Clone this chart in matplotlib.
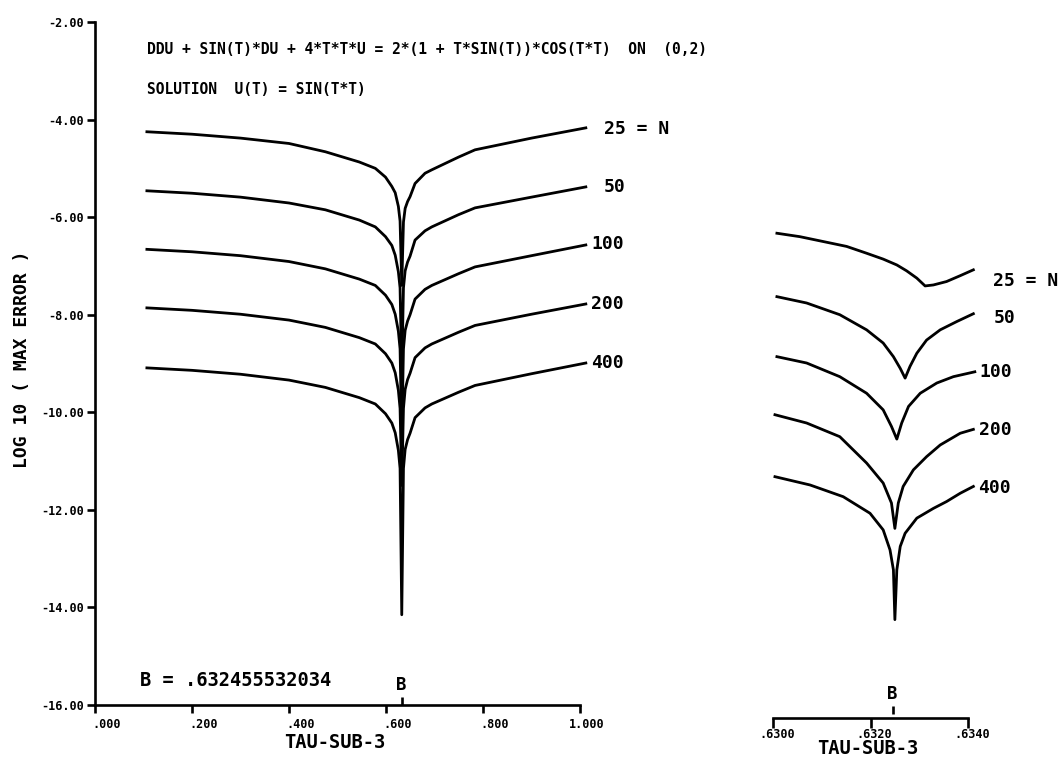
import matplotlib
matplotlib.use("Agg")
import matplotlib.pyplot as plt
import matplotlib.transforms as mtransforms

plt.rcParams['font.family'] = ['DejaVu Sans Mono']
plt.rcParams['font.weight'] = 'bold'

# ---------------- data ----------------
B = 0.632455532034
N_labels = ["25 = N", "50", "100", "200", "400"]

t_left = [0.107, 0.20, 0.30, 0.40, 0.475, 0.545, 0.578, 0.599, 0.612, 0.619, 0.6255, 0.629,
          0.6325, 0.636, 0.6395, 0.6445, 0.6496, 0.6599, 0.6805, 0.6944, 0.7494, 0.7836,
          0.90, 1.012]
left_n25 = [-4.25, -4.30, -4.38, -4.49, -4.66, -4.87, -5.00, -5.18, -5.37, -5.50, -5.78, -6.08,
            -7.40, -6.10, -5.82, -5.68, -5.58, -5.31, -5.10, -5.03, -4.77, -4.62, -4.38, -4.17]
left_n50 = [-5.46, -5.51, -5.59, -5.71, -5.85, -6.06, -6.20, -6.40, -6.58, -6.78, -7.12, -7.45,
            -9.20, -7.45, -7.10, -6.92, -6.80, -6.47, -6.28, -6.20, -5.95, -5.81, -5.59, -5.38]
left_n100 = [-6.66, -6.71, -6.79, -6.91, -7.06, -7.27, -7.40, -7.60, -7.79, -7.99, -8.34, -8.70,
             -10.50, -8.70, -8.32, -8.13, -8.00, -7.68, -7.48, -7.40, -7.16, -7.02, -6.79, -6.57]
left_n200 = [-7.86, -7.91, -7.99, -8.11, -8.26, -8.47, -8.60, -8.80, -8.99, -9.19, -9.55, -9.92,
             -11.50, -9.92, -9.53, -9.33, -9.20, -8.88, -8.68, -8.60, -8.36, -8.22, -7.99, -7.78]
left_n400 = [-9.09, -9.14, -9.22, -9.34, -9.49, -9.70, -9.83, -10.03, -10.22, -10.42, -10.78, -11.15,
             -14.15, -11.15, -10.76, -10.56, -10.43, -10.11, -9.91, -9.83, -9.59, -9.45, -9.21, -8.99]

r25_t = [0.63008, 0.63055, 0.63103, 0.63151, 0.63192, 0.63226, 0.63254, 0.63274, 0.63295,
         0.63312, 0.63329, 0.63356, 0.63384, 0.63411]
r25_v = [-6.33, -6.40, -6.50, -6.60, -6.74, -6.86, -6.98, -7.10, -7.25,
         -7.41, -7.39, -7.32, -7.20, -7.08]
r50_t = [0.63008, 0.63069, 0.63137, 0.63192, 0.63226, 0.63247, 0.63261, 0.63271, 0.63281,
         0.63295, 0.63315, 0.63343, 0.63377, 0.63411]
r50_v = [-7.63, -7.76, -8.00, -8.31, -8.58, -8.86, -9.10, -9.30, -9.06,
         -8.79, -8.52, -8.31, -8.14, -7.98]
r100_t = [0.63008, 0.63069, 0.63137, 0.63192, 0.63226, 0.63243, 0.63254, 0.63264, 0.63278,
          0.63302, 0.63336, 0.63370, 0.63414]
r100_v = [-8.86, -8.99, -9.27, -9.61, -9.95, -10.29, -10.55, -10.22, -9.88,
          -9.61, -9.40, -9.27, -9.17]
r200_t = [0.63004, 0.63069, 0.63137, 0.63192, 0.63226, 0.63243, 0.63250, 0.63257, 0.63267,
          0.63288, 0.63315, 0.63343, 0.63384, 0.63411]
r200_v = [-10.05, -10.22, -10.50, -11.04, -11.45, -11.86, -12.38, -11.86, -11.52,
          -11.18, -10.91, -10.67, -10.43, -10.35]
r400_t = [0.63004, 0.63076, 0.63144, 0.63199, 0.63226, 0.63240, 0.63247, 0.63250, 0.63254,
          0.63261, 0.63271, 0.63295, 0.63329, 0.63356, 0.63384, 0.63411]
r400_v = [-11.32, -11.49, -11.73, -12.07, -12.41, -12.82, -13.23, -14.25, -13.23,
          -12.75, -12.48, -12.17, -11.97, -11.83, -11.66, -11.52]

y_ticks = [-2, -4, -6, -8, -10, -12, -14, -16]
x_ticks_left = [0.0, 0.2, 0.4, 0.6, 0.8, 1.0]
x_ticklabels_left = [".000", ".200", ".400", ".600", ".800", "1.000"]
x_ticks_right = [0.6300, 0.6320, 0.6340]
x_ticklabels_right = [".6300", ".6320", ".6340"]

title1 = "DDU + SIN(T)*DU + 4*T*T*U = 2*(1 + T*SIN(T))*COS(T*T)  ON  (0,2)"
title2 = "SOLUTION  U(T) = SIN(T*T)"

# ---------------- figure ----------------
W, H = 1063, 764
fig = plt.figure(figsize=(W / 100, H / 100), dpi=100)

def fx(px):
    return px / W

def fy(py):
    return 1 - py / H

ax_bottom = fy(705)
ax_h = fy(22) - fy(705)
axL = fig.add_axes([fx(95), ax_bottom, fx(580) - fx(95), ax_h])
axR = fig.add_axes([fx(773), ax_bottom, fx(968) - fx(773), ax_h])

LW = 2.0
SPW = 1.9
for ax in (axL, axR):
    ax.set_ylim(-16, -2)
    ax.spines['top'].set_visible(False)
    ax.spines['right'].set_visible(False)
    for s in ax.spines.values():
        s.set_linewidth(SPW)

axL.set_xlim(0, 1)
axR.set_xlim(0.6300, 0.6340)

left_series = [left_n25, left_n50, left_n100, left_n200, left_n400]
right_series = [(r25_t, r25_v), (r50_t, r50_v), (r100_t, r100_v), (r200_t, r200_v), (r400_t, r400_v)]

left_offsets = [(18, -1), (18, 0), (6, 1), (5, 0), (5, 0)]
right_offsets = [(20, -11), (20, -4), (5, 0), (6, -1), (5, -2)]

for vals, lab, off in zip(left_series, N_labels, left_offsets):
    axL.plot(t_left, vals, color='black', lw=LW, solid_joinstyle='round', clip_on=False)
    axL.annotate(lab, xy=(t_left[-1], vals[-1]), xytext=off, textcoords='offset pixels',
                 ha='left', va='center', fontsize=13, fontweight='bold', annotation_clip=False)

for (tt, vv), lab, off in zip(right_series, N_labels, right_offsets):
    axR.plot(tt, vv, color='black', lw=LW, solid_joinstyle='round', clip_on=False)
    axR.annotate(lab, xy=(tt[-1], vv[-1]), xytext=off, textcoords='offset pixels',
                 ha='left', va='center', fontsize=13, fontweight='bold', annotation_clip=False)

# left axis ticks
axL.set_yticks(y_ticks)
axL.set_yticklabels(["%.2f" % v for v in y_ticks], fontsize=8.5, fontweight='bold')
axL.tick_params(axis='y', direction='out', length=6, width=SPW, pad=2)
axL.set_xticks(x_ticks_left)
axL.set_xticklabels([])
axL.tick_params(axis='x', direction='out', length=6, width=SPW)
for xt, lab in zip(x_ticks_left, x_ticklabels_left):
    nlead = lab.index('.')
    axL.annotate(lab, xy=(xt, 0), xycoords=axL.get_xaxis_transform(),
                 xytext=(-3 - 8 * nlead, -20), textcoords='offset pixels',
                 ha='left', va='center', fontsize=8.5, fontweight='bold', annotation_clip=False)

# right axis
axR.spines['left'].set_visible(False)
axR.spines['bottom'].set_position(('outward', 9))
axR.set_yticks([])
axR.set_xticks(x_ticks_right)
axR.set_xticklabels([])
axR.tick_params(axis='x', direction='out', length=7, width=SPW)
for xt, lab in zip(x_ticks_right, x_ticklabels_right):
    axR.annotate(lab, xy=(xt, 0), xycoords=axR.get_xaxis_transform(),
                 xytext=(4, -29), textcoords='offset pixels',
                 ha='center', va='center', fontsize=8.5, fontweight='bold', annotation_clip=False)

# B markers (upward ticks with label)
for ax, down in ((axL, 0), (axR, 9)):
    trans = ax.get_xaxis_transform()
    line_trans = mtransforms.offset_copy(trans, fig=fig, x=0, y=-down, units='dots')
    ax.plot([B, B], [0, 8 / (705 - 22)], transform=line_trans, color='black', lw=SPW,
            clip_on=False, solid_capstyle='butt')
    ax.annotate("B", xy=(B, 0), xycoords=trans, xytext=(0, 20 - down), textcoords='offset pixels',
                ha='center', va='center', fontsize=12.5, fontweight='bold', annotation_clip=False)

# texts
fig.text(fx(147), fy(50), title1, ha='left', va='center', fontsize=10.5, fontweight='bold')
fig.text(fx(147), fy(89), title2, ha='left', va='center', fontsize=10.5, fontweight='bold')
fig.text(fx(22), fy(359), "LOG 10 ( MAX ERROR )", rotation=90, ha='center', va='center',
         fontsize=13, fontweight='bold')
fig.text(fx(140), fy(681), "B = .632455532034", ha='left', va='center', fontsize=13.5,
         fontweight='bold')
fig.text(fx(335), fy(742), "TAU-SUB-3", ha='center', va='center', fontsize=13.5, fontweight='bold')
fig.text(fx(868), fy(749), "TAU-SUB-3", ha='center', va='center', fontsize=13.5, fontweight='bold')

fig.savefig("out.png", dpi=100, facecolor='white')
